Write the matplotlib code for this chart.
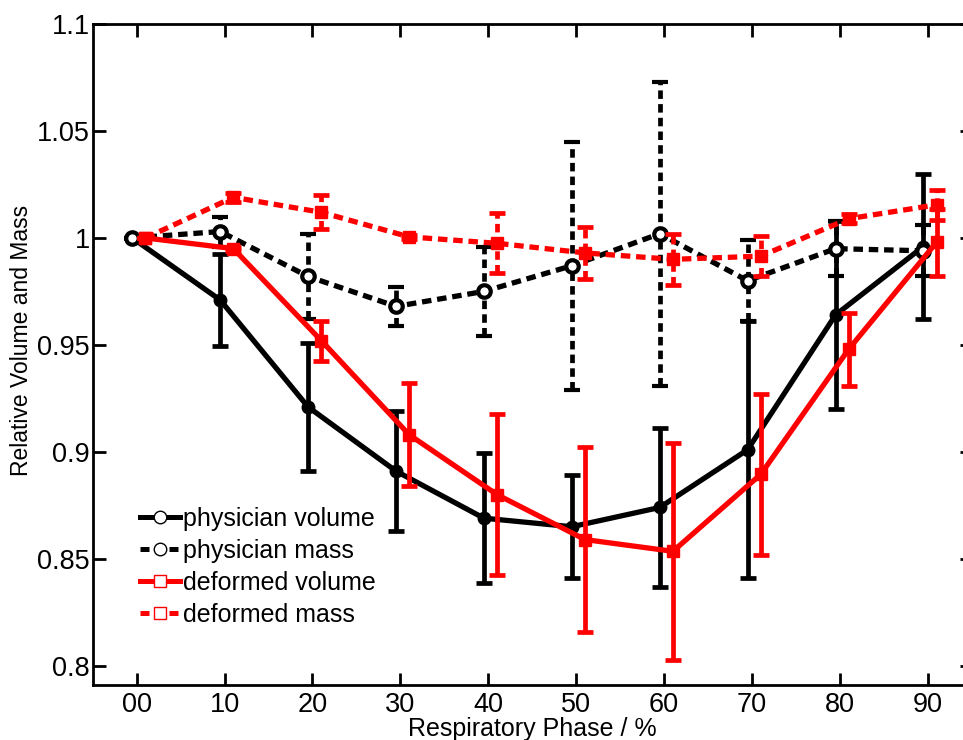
import matplotlib
matplotlib.use('Agg')
import matplotlib.pyplot as plt
from matplotlib.lines import Line2D
import numpy as np

# respiratory phases and the values
phases = np.arange(10)
xtick_labels = ['00', '10', '20', '30', '40', '50', '60', '70', '80', '90']
ytick_values = [0.8, 0.85, 0.9, 0.95, 1.0, 1.05, 1.1]
ytick_labels = ['0.8', '0.85', '0.9', '0.95', '1', '1.05', '1.1']

phys_vol = [1.0, 0.971, 0.921, 0.891, 0.869, 0.865, 0.874, 0.901, 0.964, 0.996]
phys_vol_err = [0, 0.0215, 0.030, 0.028, 0.0305, 0.024, 0.037, 0.060, 0.044, 0.034]
phys_mass = [1.0, 1.003, 0.982, 0.968, 0.975, 0.987, 1.002, 0.980, 0.995, 0.994]
phys_mass_err = [0, 0.007, 0.020, 0.009, 0.021, 0.058, 0.071, 0.019, 0.013, 0.012]
def_vol = [1.0, 0.995, 0.952, 0.908, 0.880, 0.859, 0.8535, 0.8895, 0.948, 0.998]
def_vol_err = [0, 0.001, 0.0094, 0.024, 0.0375, 0.0433, 0.0507, 0.0375, 0.017, 0.0156]
def_mass = [1.0, 1.019, 1.012, 1.0005, 0.9975, 0.993, 0.990, 0.9915, 1.009, 1.0155]
def_mass_err = [0, 0.002, 0.008, 0.001, 0.014, 0.012, 0.012, 0.0095, 0.002, 0.007]

plt.rcParams['font.family'] = ['Liberation Sans', 'DejaVu Sans']

fig = plt.figure(figsize=(9.63, 7.40), dpi=100)
ax = fig.add_axes([0.0963, 0.0743, 0.9128, 0.8932])

dash = (0, (1.8, 1.1))
lw = 3.8
common = dict(lw=lw, elinewidth=3.4, capsize=6, capthick=3.4, ms=9)

# physician series slightly left, deformed slightly right
eb = ax.errorbar(phases - 0.05, phys_vol, yerr=phys_vol_err, color='black',
                 marker='o', mfc='black', mec='black', zorder=3, **common)
eb = ax.errorbar(phases - 0.05, phys_mass, yerr=phys_mass_err, color='black',
                 marker='o', mfc='white', mec='black', mew=3, ls=dash, zorder=3, **common)
eb[2][0].set_linestyle(dash)
eb = ax.errorbar(phases + 0.1, def_vol, yerr=def_vol_err, color='red',
                 marker='s', mfc='red', mec='red', zorder=4, **common)
eb = ax.errorbar(phases + 0.1, def_mass, yerr=def_mass_err, color='red',
                 marker='s', mfc='red', mec='red', ls=dash, zorder=4, **common)
eb[2][0].set_linestyle(dash)

ax.set_xlim(-0.5, 9.5)
ax.set_ylim(0.791, 1.1)
ax.set_xticks(phases)
ax.set_xticklabels(xtick_labels)
ax.set_yticks(ytick_values)
ax.set_yticklabels(ytick_labels)
ax.tick_params(direction='in', length=9, width=2, labelsize=19.5,
               top=True, right=True)
ax.tick_params(axis='y', pad=2)
ax.tick_params(axis='x', pad=5)
for s in ax.spines.values():
    s.set_linewidth(2)

ax.set_xlabel('Respiratory Phase / %', fontsize=18, labelpad=-1)
ax.set_ylabel('Relative Volume and Mass', fontsize=16.5)
ax.yaxis.set_label_coords(-0.068, 0.522)

handles = [
    Line2D([], [], color='black', lw=3.6, marker='o', ms=9, mfc='white', mec='black', mew=1),
    Line2D([], [], color='black', lw=3.6, ls=dash, marker='o', ms=9, mfc='white', mec='black', mew=1),
    Line2D([], [], color='red', lw=3.6, marker='s', ms=9, mfc='white', mec='red', mew=1),
    Line2D([], [], color='red', lw=3.6, ls=dash, marker='s', ms=9, mfc='white', mec='red', mew=1),
]
labels = ['physician volume', 'physician mass', 'deformed volume', 'deformed mass']
ax.legend(handles, labels, loc='upper left', bbox_to_anchor=(140 / 963, 1 - 507 / 740),
          bbox_transform=fig.transFigure, frameon=False, fontsize=18,
          handlelength=1.6, handletextpad=0.12, labelspacing=0.32, borderpad=0,
          borderaxespad=0)

fig.savefig('out.png', dpi=100)
